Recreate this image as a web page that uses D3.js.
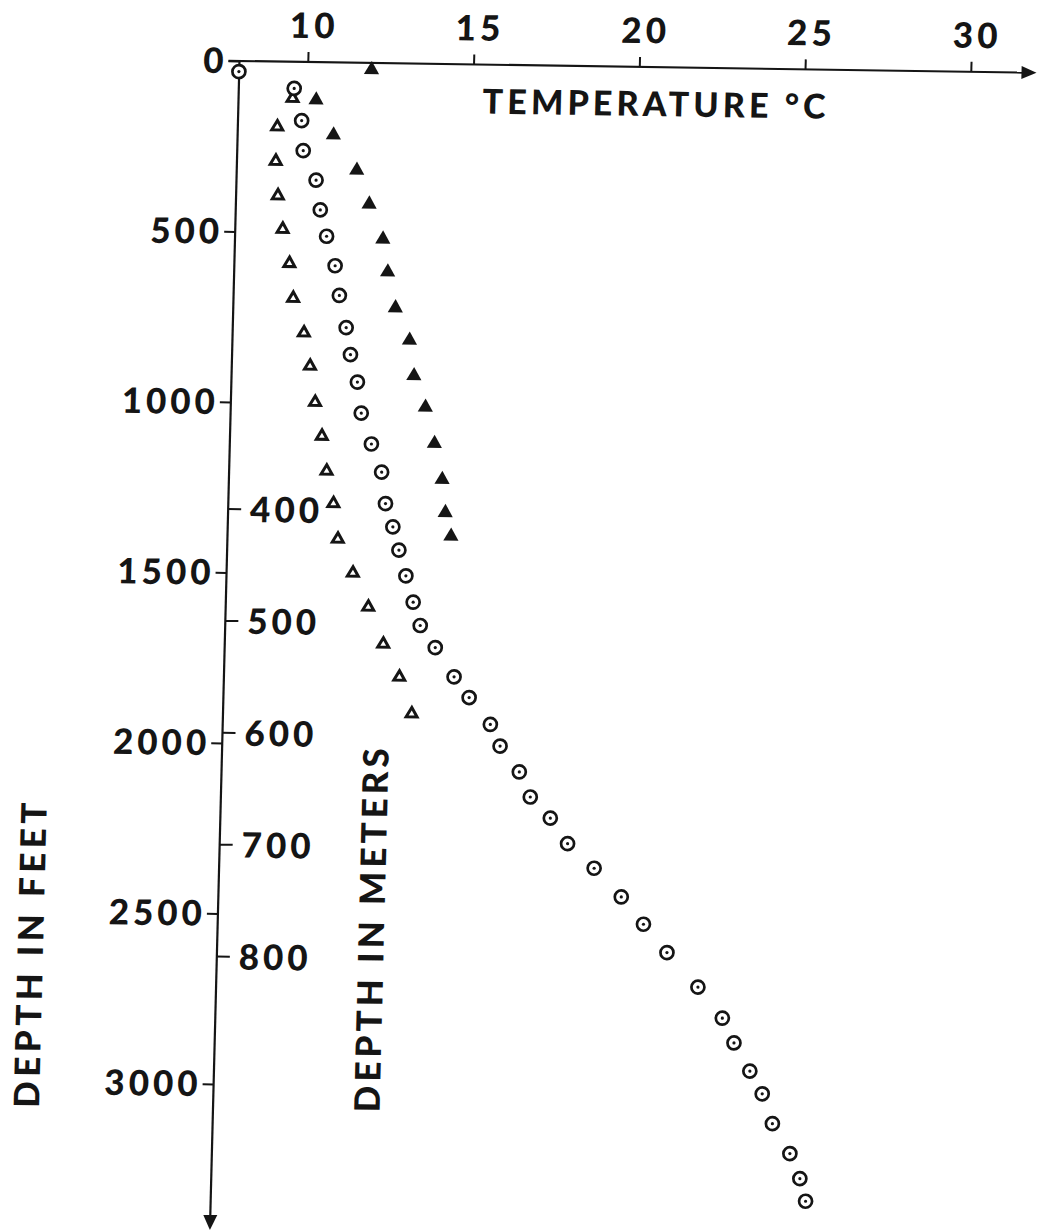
<!DOCTYPE html>
<meta charset="utf-8">
<script src="https://d3js.org/d3.v7.min.js"></script>
<style>
  body { margin: 0; background: #fff; }
  text { font-family: 'Lato', 'Open Sans', sans-serif; font-weight: 900; fill: #151515; }
  .tick text { font-size: 35px; letter-spacing: 4px; }
  .tick line { stroke: #151515; stroke-width: 2px; }
  .domain { display: none; }
</style>
<body>
<div id="chart"></div>
<script>

// well temperature profiles
// open circles (the deep well)
var circleTemp = [7.93, 9.61, 9.86, 9.93, 10.34, 10.49, 10.70, 10.98, 11.13, 11.36,
  11.51, 11.74, 11.88, 12.21, 12.54, 12.68, 12.92, 13.12, 13.35, 13.59,
  13.82, 14.29, 14.88, 15.35, 16.01, 16.32, 16.92, 17.27, 17.89, 18.43,
  19.25, 20.09, 20.78, 21.51, 22.47, 23.23, 23.60, 24.10, 24.49, 24.82,
  25.37, 25.69, 25.88];
var circleDepth = [31, 78, 172, 260, 346, 433, 510, 596, 683, 777,
  856, 936, 1027, 1117, 1199, 1291, 1359, 1427, 1502, 1579,
  1647, 1711, 1796, 1856, 1934, 1997, 2072, 2145, 2206, 2280,
  2351, 2434, 2513, 2595, 2695, 2785, 2857, 2939, 3005, 3092,
  3179, 3252, 3318];

// open triangles
var openTriTemp = [9.57, 9.13, 9.11, 9.20, 9.37, 9.60, 9.74, 10.09, 10.30, 10.48,
  10.71, 10.88, 11.11, 11.27, 11.75, 12.24, 12.72, 13.23, 13.63];
var openTriDepth = [107, 191, 292, 393, 491, 591, 693, 794, 891, 997,
  1096, 1198, 1293, 1397, 1496, 1595, 1703, 1799, 1906];

// filled triangles
var fillTriTemp = [11.93, 10.28, 10.83, 11.56, 11.96, 12.40, 12.57, 12.83, 13.28, 13.44,
  13.81, 14.11, 14.37, 14.49, 14.68];
var fillTriDepth = [20, 111, 213, 315, 414, 516, 612, 717, 811, 915,
  1007, 1113, 1218, 1315, 1384];

// tick labels
var tempTicks = [10, 15, 20, 25, 30];
var feetTicks = [0, 500, 1000, 1500, 2000, 2500, 3000];
var meterTicks = [400, 500, 600, 700, 800];

var FT_PER_M = 3.28084;

var width = 1037, height = 1232;

var svg = d3.select("#chart").append("svg")
  .attr("width", width)
  .attr("height", height);

svg.append("rect").attr("width", width).attr("height", height).attr("fill", "#fff");

// the scanned figure is a little skewed, so the whole plot sits in a sheared frame
var g = svg.append("g")
  .attr("transform", "matrix(1,0.0148,-0.0253,1,239.5,61)");

var x = d3.scaleLinear().domain([10, 30]).range([68.29, 731.29]);
var y = d3.scaleLinear().domain([0, 3000]).range([0, 1023]);
var yM = d3.scaleLinear().domain([0, 1000]).range([0, y(1000 * FT_PER_M)]);

var ink = "#151515";

// axis lines with arrow heads
g.append("line").attr("x1", -11).attr("y1", 0).attr("x2", 784).attr("y2", 0)
  .attr("stroke", ink).attr("stroke-width", 2.2);
g.append("path").attr("d", "M782,-6.5L797,0L782,6.5Z").attr("fill", ink);

g.append("line").attr("x1", 0).attr("y1", 0).attr("x2", 0).attr("y2", 1156)
  .attr("stroke", ink).attr("stroke-width", 2.2);
g.append("path").attr("d", "M-7,1154L0,1169L7,1154Z").attr("fill", ink);

// temperature axis
var xAxis = g.append("g")
  .call(d3.axisTop(x).tickValues(tempTicks).tickSize(10).tickPadding(14));
xAxis.selectAll("text").attr("dx", 5);

// depth in feet
var yAxis = g.append("g")
  .call(d3.axisLeft(y).tickValues(feetTicks).tickFormat(d3.format("d"))
    .tickSize(11).tickPadding(0));
yAxis.selectAll("text").attr("x", -12).attr("dy", "0.34em");

// depth in meters
var mAxis = g.append("g")
  .call(d3.axisRight(yM).tickValues(meterTicks).tickFormat(d3.format("d"))
    .tickSize(13).tickPadding(9));
mAxis.selectAll("text").attr("dy", "0.36em");

// axis titles
g.append("text")
  .attr("x", 244).attr("y", 49)
  .attr("font-size", "34px")
  .attr("textLength", 343).attr("lengthAdjust", "spacing")
  .text("TEMPERATURE °C");

g.append("text")
  .attr("transform", "translate(-174,897) rotate(-90)")
  .attr("text-anchor", "middle")
  .attr("font-size", "35px")
  .attr("textLength", 305).attr("lengthAdjust", "spacing")
  .text("DEPTH IN FEET");

g.append("text")
  .attr("transform", "translate(166.5,867) rotate(-90)")
  .attr("text-anchor", "middle")
  .attr("font-size", "35px")
  .attr("textLength", 364).attr("lengthAdjust", "spacing")
  .text("DEPTH IN METERS");

// open triangles
var openTri = openTriTemp.map(function(t, i) { return {t: t, d: openTriDepth[i]}; });
g.selectAll(".otri").data(openTri).enter().append("path")
  .attr("class", "otri")
  .attr("d", d3.symbol(d3.symbolTriangle, 52))
  .attr("transform", function(d) { return "translate(" + x(d.t) + "," + y(d.d) + ")"; })
  .attr("fill", "#fff").attr("stroke", ink).attr("stroke-width", 3)
  .attr("stroke-linejoin", "miter");

// filled triangles
var fillTri = fillTriTemp.map(function(t, i) { return {t: t, d: fillTriDepth[i]}; });
g.selectAll(".ftri").data(fillTri).enter().append("path")
  .attr("class", "ftri")
  .attr("d", d3.symbol(d3.symbolTriangle, 100))
  .attr("transform", function(d) { return "translate(" + x(d.t) + "," + y(d.d) + ")"; })
  .attr("fill", ink);

// circles with a centre dot
var circ = circleTemp.map(function(t, i) { return {t: t, d: circleDepth[i]}; });
var cg = g.selectAll(".circ").data(circ).enter().append("g")
  .attr("class", "circ")
  .attr("transform", function(d) { return "translate(" + x(d.t) + "," + y(d.d) + ")"; });
cg.append("circle").attr("r", 6.5)
  .attr("fill", "#fff").attr("stroke", ink).attr("stroke-width", 2.7);
cg.append("circle").attr("r", 1.6).attr("fill", ink);

</script>
</body>
